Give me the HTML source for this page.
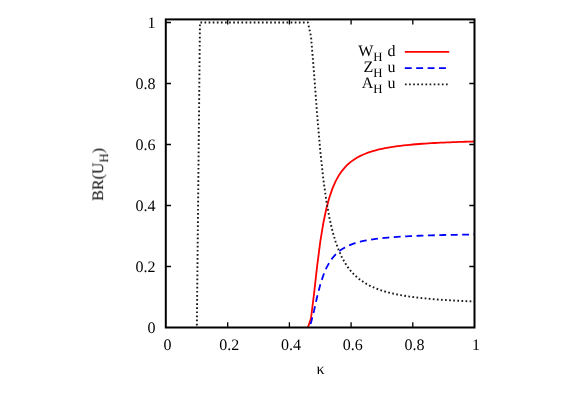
<!DOCTYPE html>
<html><head><meta charset="utf-8"><title>BR(U_H)</title>
<style>
html,body{margin:0;padding:0;background:#fff;}
body{width:585px;height:409px;overflow:hidden;}
svg{display:block;}
text{text-rendering:geometricPrecision;}
text{font-family:"Liberation Serif",serif;font-size:16.0px;fill:#000;}
</style></head><body>
<svg width="585" height="409" viewBox="0 0 585 409">
<rect width="585" height="409" fill="#fff"/>
<g fill="none" stroke-linejoin="round">
<path d="M307.91,327.50 L311.00,318.24 L314.08,293.39 L317.16,265.88 L320.25,241.98 L323.34,222.98 L326.42,208.29 L329.50,196.95 L332.59,188.12 L335.68,181.16 L338.76,175.58 L341.85,171.06 L344.93,167.34 L348.01,164.24 L351.10,161.64 L354.19,159.42 L357.27,157.53 L360.36,155.89 L363.44,154.46 L366.52,153.21 L369.61,152.11 L372.70,151.14 L375.78,150.27 L378.87,149.49 L381.95,148.80 L385.03,148.17 L388.12,147.60 L391.20,147.08 L394.29,146.61 L397.38,146.18 L400.46,145.78 L403.55,145.42 L406.63,145.09 L409.72,144.78 L412.80,144.50 L415.88,144.23 L418.97,143.99 L422.06,143.76 L425.14,143.55 L428.22,143.36 L431.31,143.17 L434.39,143.00 L437.48,142.84 L440.56,142.69 L443.65,142.55 L446.74,142.42 L449.82,142.29 L452.91,142.17 L455.99,142.06 L459.07,141.96 L462.16,141.86 L465.25,141.77 L468.33,141.68 L471.42,141.60 L474.50,141.52" stroke="#ff0000" stroke-width="1.8"/>
<path d="M307.91,327.50 L311.00,322.87 L314.08,310.45 L317.16,296.69 L320.25,284.74 L323.34,275.24 L326.42,267.90 L329.50,262.23 L332.59,257.81 L335.68,254.33 L338.76,251.54 L341.85,249.28 L344.93,247.42 L348.01,245.87 L351.10,244.57 L354.19,243.46 L357.27,242.51 L360.36,241.69 L363.44,240.98 L366.52,240.36 L369.61,239.81 L372.70,239.32 L375.78,238.89 L378.87,238.50 L381.95,238.15 L385.03,237.83 L388.12,237.55 L391.20,237.29 L394.29,237.05 L397.38,236.84 L400.46,236.64 L403.55,236.46 L406.63,236.29 L409.72,236.14 L412.80,236.00 L415.88,235.87 L418.97,235.75 L422.06,235.63 L425.14,235.53 L428.22,235.43 L431.31,235.34 L434.39,235.25 L437.48,235.17 L440.56,235.10 L443.65,235.02 L446.74,234.96 L449.82,234.90 L452.91,234.84 L455.99,234.78 L459.07,234.73 L462.16,234.68 L465.25,234.63 L468.33,234.59 L471.42,234.55 L474.50,234.51" stroke="#0000ff" stroke-width="1.8" stroke-dasharray="6.9 4.5" stroke-dashoffset="-4.3"/>
<path d="M196.85,327.50 L199.94,22.50 L203.02,22.50 L206.11,22.50 L209.19,22.50 L212.28,22.50 L215.36,22.50 L218.44,22.50 L221.53,22.50 L224.62,22.50 L227.70,22.50 L230.78,22.50 L233.87,22.50 L236.95,22.50 L240.04,22.50 L243.12,22.50 L246.21,22.50 L249.30,22.50 L252.38,22.50 L255.46,22.50 L258.55,22.50 L261.63,22.50 L264.72,22.50 L267.81,22.50 L270.89,22.50 L273.98,22.50 L277.06,22.50 L280.14,22.50 L283.23,22.50 L286.31,22.50 L289.40,22.50 L292.49,22.50 L295.57,22.50 L298.65,22.50 L301.74,22.50 L304.83,22.50 L307.91,22.50 L311.00,36.39 L314.08,73.66 L317.16,114.94 L320.25,150.78 L323.34,179.28 L326.42,201.31 L329.50,218.32 L332.59,231.56 L335.68,242.01 L338.76,250.38 L341.85,257.17 L344.93,262.75 L348.01,267.39 L351.10,271.30 L354.19,274.62 L357.27,277.46 L360.36,279.92 L363.44,282.06 L366.52,283.93 L369.61,285.58 L372.70,287.04 L375.78,288.34 L378.87,289.51 L381.95,290.56 L385.03,291.50 L388.12,292.36 L391.20,293.13 L394.29,293.84 L397.38,294.48 L400.46,295.07 L403.55,295.62 L406.63,296.12 L409.72,296.58 L412.80,297.00 L415.88,297.40 L418.97,297.76 L422.06,298.10 L425.14,298.42 L428.22,298.72 L431.31,298.99 L434.39,299.25 L437.48,299.49 L440.56,299.71 L443.65,299.93 L446.74,300.13 L449.82,300.31 L452.91,300.49 L455.99,300.65 L459.07,300.81 L462.16,300.96 L465.25,301.10 L468.33,301.23 L471.42,301.36 L474.50,301.47" stroke="#1a1a1a" stroke-width="1.9" stroke-dasharray="1.7 2.4" stroke-dashoffset="2.0"/>
<path d="M404.8,51.8 H449.2" stroke="#ff0000" stroke-width="1.8"/>
<path d="M404.8,68.1 H446" stroke="#0000ff" stroke-width="1.8" stroke-dasharray="6.9 4.5"/>
<path d="M404.95,84.4 H447.7" stroke="#1a1a1a" stroke-width="1.9" stroke-dasharray="1.7 2.4"/>
</g>
<g fill="none" stroke="#000" stroke-width="1.3">
<path d="M227.70,327.5 V322.30 M227.70,19.4 V24.60"/>
<path d="M165.8,266.50 H171.00 M474.5,266.50 H469.30"/>
<path d="M289.40,327.5 V322.30 M289.40,19.4 V24.60"/>
<path d="M165.8,205.50 H171.00 M474.5,205.50 H469.30"/>
<path d="M351.10,327.5 V322.30 M351.10,19.4 V24.60"/>
<path d="M165.8,144.50 H171.00 M474.5,144.50 H469.30"/>
<path d="M412.80,327.5 V322.30 M412.80,19.4 V24.60"/>
<path d="M165.8,83.50 H171.00 M474.5,83.50 H469.30"/>
<path d="M165.8,22.50 H171.00 M474.5,22.50 H469.30"/>
</g>
<rect x="165.8" y="19.4" width="308.70" height="308.10" fill="none" stroke="#000" stroke-width="2"/>
<g opacity="0.999">
<text x="167.60" y="349.7" text-anchor="middle">0</text>
<text x="155.5" y="332.90" text-anchor="end">0</text>
<text x="229.30" y="349.7" text-anchor="middle">0.2</text>
<text x="155.5" y="271.90" text-anchor="end">0.2</text>
<text x="291.00" y="349.7" text-anchor="middle">0.4</text>
<text x="155.5" y="210.90" text-anchor="end">0.4</text>
<text x="352.70" y="349.7" text-anchor="middle">0.6</text>
<text x="155.5" y="149.90" text-anchor="end">0.6</text>
<text x="414.40" y="349.7" text-anchor="middle">0.8</text>
<text x="155.5" y="88.90" text-anchor="end">0.8</text>
<text x="476.10" y="349.7" text-anchor="middle">1</text>
<text x="155.5" y="27.90" text-anchor="end">1</text>
<text x="395.5" y="55.8" text-anchor="end">W<tspan font-size="12.8" dy="4.8">H</tspan><tspan dy="-4.8" dx="0.9"> d</tspan></text>
<text x="395.5" y="72.0" text-anchor="end">Z<tspan font-size="12.8" dy="4.8">H</tspan><tspan dy="-4.8" dx="0.9"> u</tspan></text>
<text x="395.5" y="88.2" text-anchor="end">A<tspan font-size="12.8" dy="4.8">H</tspan><tspan dy="-4.8" dx="0.9"> u</tspan></text>
<text x="320.5" y="373.5" text-anchor="middle">κ</text>
<text transform="translate(103.1,174.4) rotate(-90)" text-anchor="middle">BR(U<tspan font-size="12.8" dy="4.8">H</tspan><tspan dy="-4.8">)</tspan></text>
</g>
</svg>
</body></html>
